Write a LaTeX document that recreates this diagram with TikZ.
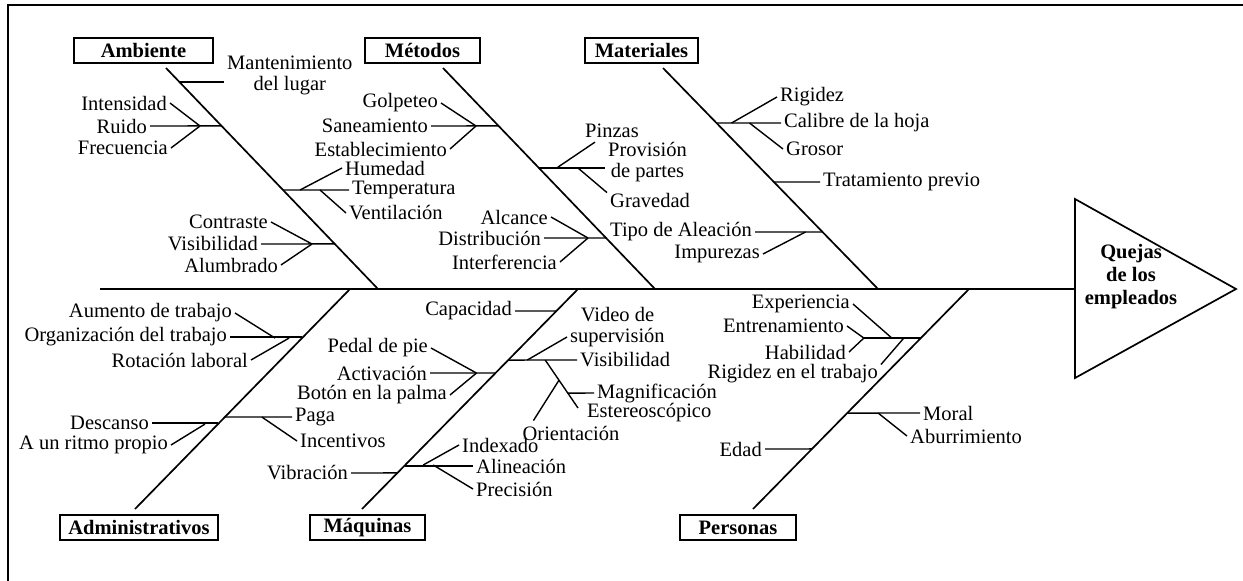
\documentclass[tikz,border=0pt]{standalone}
\usepackage{fontspec}
\setmainfont{Liberation Serif}
\usepackage{tikz}
\usetikzlibrary{
    positioning,
    calc
}
\newcommand{\fishfont}{\fontsize{20.5}{21}\selectfont}
\tikzset{
    category/.style={
        draw,
        line width=1.5pt,
        font=\fishfont\bfseries,
        minimum height=25pt,
        inner sep=0pt
    }
}
\tikzset{
    bone/.style={
        line width=1.7pt
    }
}
\tikzset{
    twig/.style={
        line width=1.4pt
    }
}
\tikzset{
    factor/.style={
        inner xsep=3pt,
        inner ysep=0pt
    }
}

\begin{document}
\begin{tikzpicture}[
    x=1pt,
    y=-1pt,
    font=\fishfont
]
\useasboundingbox (0,0) rectangle (1243,581);

% ------------------------------------------------------------
% Frame, spine and head
% ------------------------------------------------------------

\draw[line width=1.3pt] (8,581) -- (8,5) -- (1243,5);

\draw[bone] (1075,199) -- (1236,289) -- (1075,378) -- cycle;

\node[font=\fishfont\bfseries, align=center] (effect) at (1131,277)
    {Quejas\\[2pt]de los\\[2pt]empleados};

\coordinate (tail) at (100,289);
\coordinate (head) at (1075,289);

\draw[line width=2.2pt] (tail) -- (head);

% ------------------------------------------------------------
% Categories
% ------------------------------------------------------------

\node[category, minimum width=139pt] (ambiente) at (143.5,50.5) {Ambiente};
\node[category, minimum width=115pt] (metodos) at (422.5,50.5) {Métodos};
\node[category, minimum width=113pt] (materiales) at (641.5,50.5) {Materiales};
\node[category, minimum width=158pt] (admin) at (139,527.5) {Administrativos};
\node[category, minimum width=115pt] (maquinas) at (367.5,527.5) {Máquinas};
\node[category, minimum width=116pt] (personas) at (738,527.5) {Personas};

\coordinate (ambT) at (166,68);
\coordinate (ambB) at (378,289);
\coordinate (metT) at (443,68);
\coordinate (metB) at (655,289);
\coordinate (matT) at (663,68);
\coordinate (matB) at (878,289);
\coordinate (admT) at (350,289);
\coordinate (admB) at (135,509);
\coordinate (maqT) at (578,289);
\coordinate (maqB) at (362,509);
\coordinate (perT) at (969,289);
\coordinate (perB) at (753,509);

\draw[bone] (ambT) -- (ambB);
\draw[bone] (metT) -- (metB);
\draw[bone] (matT) -- (matB);
\draw[bone] (admT) -- (admB);
\draw[bone] (maqT) -- (maqB);
\draw[bone] (perT) -- (perB);

% ------------------------------------------------------------
% Ambiente
% ------------------------------------------------------------

\coordinate (a1) at ($(ambT)!0.063!(ambB)$);
\node[factor, align=center, anchor=west] (mant) at (224,75)
    {Mantenimiento\\del lugar};
\draw[twig] (a1) -- (a1 -| mant.west);

\coordinate (a2) at ($(ambT)!0.262!(ambB)$);
\coordinate (a2j) at (200,126);
\node[factor, anchor=east] (intens) at (170,103) {Intensidad};
\node[factor, anchor=east] (ruido) at (150,126) {Ruido};
\node[factor, anchor=east] (frec) at (171,148) {Frecuencia};
\draw[twig] (a2) -- (ruido.east);
\draw[twig] (intens.east) -- (a2j);
\draw[twig] (frec.east) -- (a2j);

\coordinate (a3) at ($(ambT)!0.552!(ambB)$);
\coordinate (a3h) at ($(a3)+(17,0)$);
\coordinate (a3v) at ($(a3)+(37,0)$);
\node[factor, anchor=west] (humedad) at (342,168) {Humedad};
\node[factor, anchor=west] (temp) at (349,190) {Temperatura};
\node[factor, anchor=west] (vent) at (346,213) {Ventilación};
\draw[twig] (a3) -- (temp.west);
\draw[twig] (a3h) -- (humedad.west);
\draw[twig] (a3v) -- (vent.west);

\coordinate (a4) at ($(ambT)!0.796!(ambB)$);
\coordinate (a4j) at (312,244);
\node[factor, anchor=east] (contraste) at (271,222) {Contraste};
\node[factor, anchor=east] (visib) at (261,244) {Visibilidad};
\node[factor, anchor=east] (alumbrado) at (281,265) {Alumbrado};
\draw[twig] (a4) -- (visib.east);
\draw[twig] (contraste.east) -- (a4j);
\draw[twig] (alumbrado.east) -- (a4j);

% ------------------------------------------------------------
% Métodos
% ------------------------------------------------------------

\coordinate (m1) at ($(metT)!0.262!(metB)$);
\coordinate (m1j) at (476,126);
\node[factor, anchor=east] (golpeteo) at (441,103) {Golpeteo};
\node[factor, anchor=east] (saneam) at (431,126) {Saneamiento};
\node[factor, anchor=east] (establ) at (450,149) {Establecimiento};
\draw[twig] (m1) -- (saneam.east);
\draw[twig] (golpeteo.east) -- (m1j);
\draw[twig] (establ.east) -- (m1j);

\coordinate (m2) at ($(metT)!0.452!(metB)$);
\coordinate (m2p) at ($(m2)+(18,0)$);
\coordinate (m2g) at ($(m2)+(39,0)$);
\node[factor, align=center, anchor=west] (provision) at (605,162)
    {Provisión\\de partes};
\node[factor, anchor=west] (pinzas) at (582,131) {Pinzas};
\node[factor, anchor=west] (gravedad) at (607,200) {Gravedad};
\draw[twig] (m2) -- (m2 -| provision.west);
\draw[twig] (m2p) -- ([xshift=13pt,yshift=-4pt]pinzas.south west);
\draw[twig] (m2g) -- (gravedad.north west);

\coordinate (m3) at ($(metT)!0.769!(metB)$);
\coordinate (m3j) at (588,238);
\node[factor, anchor=east] (alcance) at (551,217) {Alcance};
\node[factor, anchor=east] (distrib) at (544,238) {Distribución};
\node[factor, anchor=east] (interf) at (560,262) {Interferencia};
\draw[twig] (distrib.east) -- (m3);
\draw[twig] (alcance.east) -- (m3j);
\draw[twig] (interf.east) -- (m3j);

% ------------------------------------------------------------
% Materiales
% ------------------------------------------------------------

\coordinate (t1) at ($(matT)!0.249!(matB)$);
\coordinate (t1r) at ($(t1)+(15,0)$);
\coordinate (t1g) at ($(t1)+(33,0)$);
\node[factor, anchor=west] (calibre) at (781,123) {Calibre de la hoja};
\node[factor, anchor=west] (rigidez) at (777,97) {Rigidez};
\node[factor, anchor=west] (grosor) at (783,149) {Grosor};
\draw[twig] (t1) -- (calibre.west);
\draw[twig] (t1r) -- (rigidez.west);
\draw[twig] (t1g) -- (grosor.west);

\coordinate (t2) at ($(matT)!0.516!(matB)$);
\node[factor, anchor=west] (tratamiento) at (820,182) {Tratamiento previo};
\draw[twig] (t2) -- (tratamiento.west);

\coordinate (t3) at ($(matT)!0.742!(matB)$);
\coordinate (t3j) at ($(t3)+(-17,0)$);
\node[factor, anchor=east] (aleacion) at (755,232) {Tipo de Aleación};
\node[factor, anchor=east] (impurezas) at (763,254) {Impurezas};
\draw[twig] (aleacion.east) -- (t3);
\draw[twig] (impurezas.east) -- (t3j);

% ------------------------------------------------------------
% Administrativos
% ------------------------------------------------------------

\coordinate (d1) at ($(admT)!0.223!(admB)$);
\coordinate (d1a) at ($(d1)+(-27,0)$);
\coordinate (d1r) at ($(d1)+(-13,0)$);
\node[factor, anchor=east] (aumento) at (235,313) {Aumento de trabajo};
\node[factor, anchor=east] (organiz) at (230,337) {Organización del trabajo};
\node[factor, anchor=east] (rotacion) at (251,360) {Rotación laboral};
\draw[twig] (organiz.east) -- (d1 |- organiz.east);
\draw[twig] (aumento.east) -- (d1a);
\draw[twig] (rotacion.east) -- (d1r);

\coordinate (d2) at ($(admT)!0.582!(admB)$);
\coordinate (d2i) at ($(d2)+(37,0)$);
\node[factor, anchor=west] (paga) at (292,417) {Paga};
\node[factor, anchor=west] (incentivos) at (297,441) {Incentivos};
\draw[twig] (d2) -- (paga.west);
\draw[twig] (d2i) -- (incentivos.west);

\coordinate (d3) at ($(admT)!0.614!(admB)$);
\coordinate (d3j) at ($(d3)+(-13,0)$);
\node[factor, anchor=east] (descanso) at (152,423) {Descanso};
\node[factor, anchor=east] (ritmo) at (171,445) {A un ritmo propio};
\draw[twig] (descanso.east) -- (descanso.east -| d3);
\draw[twig] (ritmo.east) -- (d3j);

% ------------------------------------------------------------
% Máquinas
% ------------------------------------------------------------

\coordinate (q1) at ($(maqT)!0.1!(maqB)$);
\node[factor, anchor=east] (capacidad) at (515,311) {Capacidad};
\draw[twig] (capacidad.east) -- (q1);

\coordinate (q2) at ($(maqT)!0.323!(maqB)$);
\coordinate (q2v) at ($(q2)+(19,0)$);
\coordinate (q2s) at ($(q2)+(37,0)$);
\coordinate (q2e) at (578,408);
\coordinate (q2m) at ($(q2s)!0.69!(q2e)$);
\coordinate (q2o) at ($(q2s)!0.42!(q2e)$);
\node[factor, anchor=west] (visib2) at (577,360) {Visibilidad};
\node[factor, align=center, anchor=west] (video) at (567,327)
    {Video de\\supervisión};
\node[factor, anchor=west] (magnif) at (594,393) {Magnificación};
\node[factor, anchor=west] (estereo) at (584,413) {Estereoscópico};
\node[factor] (orient) at (571,433) {Orientación};
\draw[twig] (q2) -- (visib2.west);
\draw[twig] (q2v) -- ([yshift=-10pt]video.west);
\draw[twig] (q2s) -- (q2e);
\draw[twig] (q2m) -- (magnif.west);
\draw[twig] (q2o) -- ([xshift=14pt,yshift=5pt]orient.north west);

\coordinate (q3) at ($(maqT)!0.382!(maqB)$);
\coordinate (q3j) at ($(q3)+(-19,0)$);
\node[factor, anchor=east] (pedal) at (431,348) {Pedal de pie};
\node[factor, anchor=east] (activacion) at (430,373) {Activación};
\node[factor, anchor=east] (boton) at (450,395) {Botón en la palma};
\draw[twig] (activacion.east) -- (q3);
\draw[twig] (pedal.east) -- (q3j);
\draw[twig] (boton.east) -- (q3j);

\coordinate (q4) at ($(maqT)!0.8!(maqB)$);
\coordinate (q4i) at ($(q4)+(18,0)$);
\coordinate (q4p) at ($(q4)+(28,0)$);
\node[factor, anchor=west] (indexado) at (459,445) {Indexado};
\node[factor, anchor=west] (alineacion) at (473,466) {Alineación};
\node[factor, anchor=west] (precision) at (473,489) {Precisión};
\draw[twig] (q4 |- alineacion.west) -- (alineacion.west);
\draw[twig] (q4i) -- (indexado.west);
\draw[twig] (q4p) -- (precision.west);

\coordinate (q5) at ($(maqT)!0.836!(maqB)$);
\node[factor, anchor=east] (vibracion) at (351,473) {Vibración};
\draw[twig] (vibracion.east) -- (q5);

% ------------------------------------------------------------
% Personas
% ------------------------------------------------------------

\coordinate (p1) at ($(perT)!0.223!(perB)$);
\coordinate (p1j) at ($(p1)+(-57,0)$);
\coordinate (p1e) at ($(p1)+(-29,0)$);
\coordinate (p1r) at ($(p1)+(-17,0)$);
\node[factor, anchor=east] (experiencia) at (853,304) {Experiencia};
\node[factor, anchor=east] (entrenam) at (847,326) {Entrenamiento};
\node[factor, anchor=east] (habilidad) at (849,352) {Habilidad};
\node[factor, anchor=east] (rigtrab) at (881,374) {Rigidez en el trabajo};
\draw[twig] (p1j) -- (p1);
\draw[twig] (experiencia.east) -- (p1e);
\draw[twig] (entrenam.east) -- (p1j);
\draw[twig] (habilidad.east) -- (p1j);
\draw[twig] (p1r) -- (rigtrab.north east);

\coordinate (p2) at ($(perT)!0.564!(perB)$);
\coordinate (p2a) at ($(p2)+(31,0)$);
\node[factor, anchor=west] (moral) at (920,413) {Moral};
\node[factor, anchor=west] (aburr) at (907,436) {Aburrimiento};
\draw[twig] (p2) -- (moral.west);
\draw[twig] (p2a) -- (aburr.west);

\coordinate (p3) at ($(perT)!0.727!(perB)$);
\node[factor, anchor=east] (edad) at (765,449) {Edad};
\draw[twig] (edad.east) -- (p3);

\end{tikzpicture}
\end{document}
